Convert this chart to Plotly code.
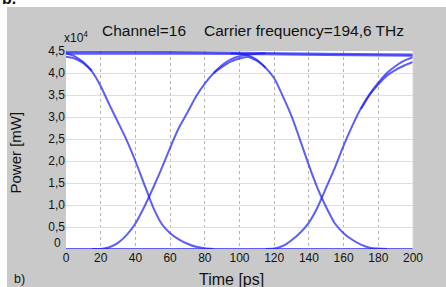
import plotly.graph_objects as go

# ---- data (Time [ps], Power [x1e4 mW]) ----
top1_t = [0, 50, 100, 150, 200]
top1_p = [4.48, 4.48, 4.46, 4.44, 4.42]
top2_t = [0, 50, 100, 150, 200]
top2_p = [4.44, 4.44, 4.43, 4.41, 4.39]

fall1_t = [0, 5, 10, 15, 20, 25, 30, 35, 40, 45, 50, 55, 60, 65, 70, 75, 80, 85]
fall1_p = [4.37, 4.33, 4.22, 4.03, 3.70, 3.28, 2.88, 2.47, 2.00, 1.48, 0.97, 0.58, 0.36, 0.22, 0.12, 0.05, 0.02, 0.0]
fall1b_t = [0, 5, 10, 15]
fall1b_p = [4.45, 4.38, 4.25, 4.05]

rise1_t = [15, 20, 25, 30, 35, 40, 45, 50, 55, 60, 65, 70, 75, 80, 85, 90, 95, 100, 105]
rise1_p = [0.0, 0.0, 0.04, 0.14, 0.32, 0.58, 0.95, 1.37, 1.82, 2.30, 2.75, 3.10, 3.47, 3.76, 3.99, 4.14, 4.26, 4.33, 4.37]
rise1top_t = [85, 90, 95, 100, 105, 110, 115]
rise1top_p = [4.00, 4.18, 4.31, 4.38, 4.42, 4.44, 4.45]

fall2_t = [105, 110, 115, 120, 125, 130, 135, 140, 145, 150, 155, 160, 165, 170, 175, 180, 185]
fall2_p = [4.37, 4.28, 4.12, 3.88, 3.47, 3.02, 2.47, 1.90, 1.38, 0.95, 0.58, 0.36, 0.21, 0.10, 0.03, 0.01, 0.0]
fall2top_t = [95, 100, 105, 110, 115]
fall2top_p = [4.45, 4.44, 4.40, 4.30, 4.12]

rise2_t = [115, 120, 125, 130, 135, 140, 145, 150, 155, 160, 165, 170, 175, 180, 185, 190, 195, 200]
rise2_p = [0.0, 0.01, 0.07, 0.20, 0.37, 0.60, 0.95, 1.40, 1.85, 2.35, 2.80, 3.20, 3.52, 3.78, 4.00, 4.16, 4.28, 4.36]
rise2b_t = [170, 175, 180, 185, 190, 195, 200]
rise2b_p = [3.18, 3.50, 3.74, 3.94, 4.07, 4.17, 4.25]

zero_t = [0, 200]
zero_p = [0.0, 0.0]

x_ticks = [0, 20, 40, 60, 80, 100, 120, 140, 160, 180, 200]
y_ticks = [0, 0.5, 1.0, 1.5, 2.0, 2.5, 3.0, 3.5, 4.0, 4.5]
y_ticktext = ["0", "0,5", "1,0", "1,5", "2,0", "2,5", "3,0", "3,5", "4,0", "4,5"]

# ---- figure ----
FONT = "Liberation Sans, Arial, sans-serif"
LINE = dict(color="rgba(25,25,245,0.7)", width=2, shape="spline", smoothing=0.6)

fig = go.Figure()
series = [
    (zero_t, zero_p),
    (top1_t, top1_p), (top2_t, top2_p),
    (fall1_t, fall1_p), (fall1b_t, fall1b_p),
    (rise1_t, rise1_p), (rise1top_t, rise1top_p),
    (fall2_t, fall2_p), (fall2top_t, fall2top_p),
    (rise2_t, rise2_p), (rise2b_t, rise2b_p),
]
for t, p in series:
    fig.add_trace(go.Scatter(x=t, y=p, mode="lines", line=LINE,
                             hoverinfo="skip", showlegend=False, cliponaxis=False))

L, R, T, B = 66, 33, 51, 38
W, H = 446, 287
pw, ph = W - L - R, H - T - B


def px(x):
    return (x - L) / pw


def py(y):
    return (H - B - y) / ph


# the "0" of the y axis sits a little above its gridline in the reference
y_labels_axis = [""] + y_ticktext[1:]

fig.update_layout(
    width=W, height=H,
    margin=dict(l=L, r=R, t=T, b=B, pad=0),
    paper_bgcolor="#c9c9c9",
    plot_bgcolor="white",
    font=dict(family=FONT, size=12, color="#111111"),
    showlegend=False,
    xaxis=dict(range=[0, 200], tickvals=x_ticks, ticks="", showline=False, zeroline=False,
               showgrid=True, gridcolor="#b4b4b4", griddash="dot", gridwidth=1,
               tickfont=dict(size=12, family=FONT, color="#111111"), fixedrange=True),
    yaxis=dict(range=[0, 4.5], tickvals=y_ticks, ticktext=y_labels_axis, ticks="", showline=False,
               zeroline=False, showgrid=True, gridcolor="#dedede", gridwidth=1,
               tickfont=dict(size=12, family=FONT, color="#111111"), fixedrange=True),
    shapes=[
        dict(type="rect", xref="paper", yref="paper", x0=px(0), x1=px(W), y0=py(7), y1=py(0),
             fillcolor="white", line=dict(width=0), layer="below"),
        dict(type="rect", xref="paper", yref="paper", x0=px(0), x1=px(7), y0=py(H), y1=py(0),
             fillcolor="white", line=dict(width=0), layer="below"),
        dict(type="line", xref="paper", yref="paper", x0=1, x1=1, y0=0, y1=1,
             line=dict(color="#d8d8d8", width=1)),
    ],
    annotations=[
        dict(text=y_ticktext[0], x=px(63), y=py(243), xref="paper", yref="paper",
             xanchor="right", yanchor="middle", showarrow=False, font=dict(size=12, family=FONT)),
        dict(text="Channel=16", x=px(100), y=py(30), xref="paper", yref="paper",
             xanchor="left", yanchor="middle", showarrow=False, font=dict(size=15.5, family=FONT)),
        dict(text="Carrier frequency=194,6 THz", x=px(201.5), y=py(30), xref="paper", yref="paper",
             xanchor="left", yanchor="middle", showarrow=False, font=dict(size=15.5, family=FONT)),
        dict(text="Time [ps]", x=px(231), y=py(279), xref="paper", yref="paper",
             xanchor="center", yanchor="middle", showarrow=False, font=dict(size=16, family=FONT)),
        dict(text="Power [mW]", x=px(15), y=py(152.5), xref="paper", yref="paper", textangle=-90,
             xanchor="center", yanchor="middle", showarrow=False, font=dict(size=15, family=FONT)),
        dict(text="x10<sup>4</sup>", x=px(62), y=py(47), xref="paper", yref="paper",
             xanchor="left", yanchor="bottom", showarrow=False, font=dict(size=12, family=FONT)),
        dict(text="b)", x=px(12), y=py(279), xref="paper", yref="paper",
             xanchor="left", yanchor="middle", showarrow=False, font=dict(size=12.5, family=FONT)),
        dict(text="<b>b.</b>", x=px(0), y=py(9), xref="paper", yref="paper",
             xanchor="left", yanchor="bottom", showarrow=False, font=dict(size=16, family=FONT)),
    ],
)

fig.write_html("out.html", config={"displayModeBar": False},
               post_script="document.body.style.margin='0';document.body.style.overflow='hidden';")
